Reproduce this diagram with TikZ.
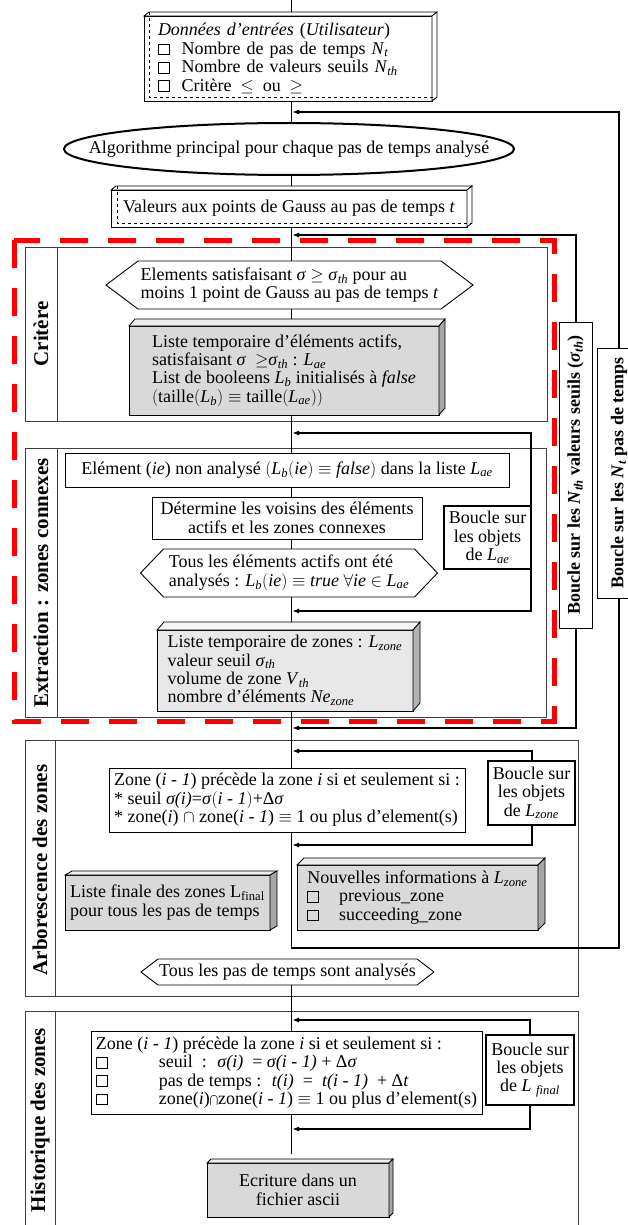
\documentclass[tikz,border=0pt]{standalone}
\usepackage{fontspec}
\setmainfont{Liberation Serif}
\usetikzlibrary{calc,arrows.meta,shapes.geometric}
\newcommand\fs{\fontsize{18}{18.4}\selectfont}
\newcommand\sbi[1]{\textsubscript{\textit{#1}}}
\newcommand\cb{{\setlength\fboxsep{0pt}\setlength\fboxrule{0.8pt}\fbox{\rule{0pt}{10pt}\hspace{10pt}}}}
\newcommand\threeD[5]{%
  \draw[line width=0.8pt, fill=#4] (#1.north west) -- ++(#2,#3) -- ($(#1.north east)+(#2,#3)$) -- (#1.north east) -- cycle;
  \draw[line width=0.8pt, fill=#5] (#1.north east) -- ++(#2,#3) -- ($(#1.south east)+(#2,#3)$) -- (#1.south east) -- cycle;}
\newcommand\hexa[2]{%
  \draw[line width=0.9pt] (#1.west) -- ($(#1.north west)+(#2,0)$) -- ($(#1.north east)+(-#2,0)$) -- (#1.east)
    -- ($(#1.south east)+(-#2,0)$) -- ($(#1.south west)+(#2,0)$) -- cycle;}
\begin{document}
\begin{tikzpicture}[x=1pt,y=-1pt,
  every node/.style={font=\fs, inner sep=0pt, outer sep=0pt},
  box/.style={draw, line width=0.9pt, fill=white, align=center},
  loopbox/.style={box, line width=2pt},
  gbox/.style={box, fill=black!15},
  sec/.style={draw=black!75, line width=1pt},
  conn/.style={line width=0.9pt},
  loopline/.style={line width=2pt},
  arr/.style={-{Latex[length=7pt,width=5pt]}},
  seclabel/.style={rotate=90, font=\fontsize{21}{21}\selectfont\bfseries},
  vlabel/.style={draw, line width=0.9pt, fill=white, rotate=90, font=\fontsize{18}{18}\selectfont\bfseries}]
\useasboundingbox (0,0) rectangle (627,1225);
\fill[white] (0,0) rectangle (627,1225);

% section frames
\draw[sec] (25,247) rectangle (547,421); \draw[sec] (57,247) -- (57,421);
\draw[sec] (25,448) rectangle (546,717); \draw[sec] (57,448) -- (57,717);
\draw[sec] (25,740) rectangle (578,996); \draw[sec] (55,740) -- (55,996);
\draw[sec] (25,1011) rectangle (578,1232); \draw[sec] (55,1011) -- (55,1232);

\node[seclabel] (lcrit) at (41,334) {Critère};
\node[seclabel] (lext) at (41,583) {Extraction : zones connexes};
\node[seclabel] (larb) at (40,870) {Arborescence des zones};
\node[seclabel] (lhist) at (40,1120) {Historique des zones};

% input box
\node[box, minimum width=288, minimum height=85, text width=260, align=left] (donnees) at (288,58.5)
  {\textit{Données d'entrées} (\textit{Utilisateur})\\
   \cb\ \ Nombre de pas de temps \textit{N}\sbi{t}\\
   \cb\ \ Nombre de valeurs seuils \textit{N}\sbi{th}\\
   \cb\ \ Critère $\,\leq\,$ ou $\,\geq$};
\threeD{donnees}{5}{-4}{white}{white}
\draw[line width=0.8pt, dashed] ($(donnees.north west)+(5,-4)$) -- ($(donnees.south west)+(5,-4)$) -- ($(donnees.south east)+(5,-4)$);

\node (algo) at (289,149) {Algorithme principal pour chaque pas de temps analysé};
\draw[line width=2pt] (algo.center) ellipse [x radius=225, y radius=26];
\coordinate (algoN) at ($(algo.center)+(0,-26)$);
\coordinate (algoS) at ($(algo.center)+(0,26)$);

\node[box, minimum width=356, minimum height=37] (val) at (289,208.5)
  {Valeurs aux points de Gauss au pas de temps \textit{t}};
\threeD{val}{5}{-4}{white}{white}
\draw[line width=0.8pt, dashed] ($(val.north west)+(6,-4)$) -- ($(val.south west)+(6,-4)$) -- ($(val.south east)+(5,-4)$);

% Critere
\node[minimum width=367, minimum height=48, align=left] (h1) at (289.5,285)
  {Elements satisfaisant \textit{σ} $\geq$ \textit{σ}\sbi{th} pour au\\moins 1 point de Gauss au pas de temps \textit{t}};
\hexa{h1}{32}
\node[gbox, minimum width=310, minimum height=89, align=left] (lae) at (284,370.5)
  {Liste temporaire d'éléments actifs,\\
   satisfaisant \textit{σ} \ $\geq$\textit{σ}\sbi{th} : \textit{L}\sbi{ae}\\
   List de booleens \textit{L}\sbi{b} initialisés à \textit{false}\\
   $\Bigl($taille$\bigl($\textit{L}\sbi{b}$\bigr)\equiv{}$taille$\bigl($\textit{L}\sbi{ae}$\bigr)\Bigr)$};
\threeD{lae}{6}{-7}{black!7}{black!35}

% Extraction
\node[box, minimum width=444, minimum height=34] (elem) at (287,470)
  {Elément (\textit{ie}) non analysé $\bigl($\textit{L}\sbi{b}$\bigl($\textit{ie}$\bigr)\equiv$ \textit{false}$\bigr)$ dans la liste \textit{L}\sbi{ae}};
\node[box, minimum width=270, minimum height=42] (det) at (287,518)
  {Détermine les voisins des éléments\\actifs et les zones connexes};
\node[loopbox, minimum width=87, minimum height=63] (blae) at (487.5,537.5)
  {Boucle sur\\les objets\\de \textit{L}\sbi{ae}};
\node[minimum width=297, minimum height=48, align=left] (h2) at (289,573)
  {Tous les éléments actifs ont été\\analysés : \textit{L}\sbi{b}$\bigl($\textit{ie}$\bigr)\equiv$ \textit{true} $\forall$\textit{ie} $\in$ \textit{L}\sbi{ae}};
\hexa{h2}{23}
\node[gbox, fill=black!9, minimum width=256, minimum height=81, align=left] (lzone) at (285,670.5)
  {Liste temporaire de zones : \textit{L}\sbi{zone}\\
   valeur seuil \textit{σ}\sbi{th}\\
   volume de zone \textit{V}\sbi{th}\\
   nombre d'éléments \textit{Ne}\sbi{zone}};
\threeD{lzone}{7}{-8}{black!4}{black!30}

% Arborescence
\node[box, minimum width=356, minimum height=64, align=left] (zone1) at (287,800)
  {Zone (\textit{i - 1}) précède la zone \textit{i} si et seulement si :\\
   * seuil \textit{σ(i)}=\textit{σ}$\bigl($\textit{i - 1}$\bigr)$+Δ\textit{σ}\\
   * zone(\textit{i}) $\cap$ zone(\textit{i - 1}) $\equiv$ 1 ou plus d'element(s)};
\node[loopbox, minimum width=87, minimum height=64] (blz) at (531.5,793)
  {Boucle sur\\les objets\\de \textit{L}\sbi{zone}};
\node[gbox, minimum width=205, minimum height=55, align=left] (lfin) at (167.5,902.5)
  {Liste finale des zones L\textsubscript{final}\\pour tous les pas de temps};
\threeD{lfin}{7}{-4}{black!7}{black!35}
\node[gbox, minimum width=241, minimum height=65, align=left] (newinfo) at (417.5,897.5)
  {Nouvelles informations à \textit{L}\sbi{zone}\\
   \cb\hspace{20pt}previous\_zone\\
   \cb\hspace{20pt}succeeding\_zone};
\threeD{newinfo}{7}{-7}{black!7}{black!35}
\node[minimum width=293, minimum height=26] (h3) at (287.5,972)
  {Tous les pas de temps sont analysés};
\hexa{h3}{17}

% Historique
\node[box, minimum width=391, minimum height=83, align=left] (zone2) at (286.5,1072.5)
  {Zone (\textit{i - 1}) précède la zone \textit{i} si et seulement si :\\
   \makebox[63pt][l]{\cb}seuil \ : \ \textit{σ(i)} \ = \textit{σ(i - 1)} + Δ\textit{σ}\\
   \makebox[63pt][l]{\cb}pas de temps : \ \textit{t(i)} \ = \ \textit{t(i - 1)} \ + Δ\textit{t}\\
   \makebox[63pt][l]{\cb}zone(\textit{i})$\bigcap$zone(\textit{i - 1}) $\equiv$ 1 ou plus d'element(s)};
\node[loopbox, minimum width=88, minimum height=70] (blf) at (530,1070)
  {Boucle sur\\les objets\\de \textit{L} \sbi{final}};
\node[gbox, minimum width=182, minimum height=54] (ecr) at (298,1190)
  {Ecriture dans un\\fichier ascii};
\threeD{ecr}{4}{-4}{black!7}{black!35}

% outer loop boxes
\node[vlabel, minimum width=306, minimum height=33] (nth) at (575.5,475)
  {Boucle sur les \textit{N}\sbi{th} valeurs seuils (\textit{σ}\sbi{th})};
\node[vlabel, minimum width=250, minimum height=44] (nt) at (619,473)
  {Boucle sur les \textit{N}\sbi{t} pas de temps};

% spine
\coordinate (s0) at (291,0);
\coordinate (s1) at (291,1154);
\coordinate (a1) at (292,112);  \coordinate (b1) at (291,948);
\coordinate (a2) at (292,235);  \coordinate (b2) at (292,728);
\coordinate (a3) at (292,433);  \coordinate (b3) at (292,611);
\coordinate (a4) at (292,751);  \coordinate (b4) at (292,845);
\coordinate (a5) at (292,1020); \coordinate (b5) at (292,1129);
\draw[conn] (s0) -- ($(donnees.north -| s0)+(0,-4)$);
\draw[conn] (donnees.south -| s0) -- (algoN -| s0);
\draw[conn] (algoS -| s0) -- ($(val.north -| s0)+(0,-4)$);
\draw[conn] (val.south -| s0) -- (h1.north -| s0);
\draw[conn] (h1.south -| s0) -- ($(lae.north -| s0)+(0,-7)$);
\draw[conn] (lae.south -| s0) -- (elem.north -| s0);
\draw[conn] (elem.south -| s0) -- (det.north -| s0);
\draw[conn] (det.south -| s0) -- (h2.north -| s0);
\draw[conn] (h2.south -| s0) -- ($(lzone.north -| s0)+(0,-8)$);
\draw[conn] (lzone.south -| s0) -- (zone1.north -| s0);
\draw[conn] (zone1.south -| s0) -- (b1);
\draw[conn] (h3.south -| s0) -- (zone2.north -| s0);
\draw[conn] (zone2.south -| s0) -- (s1);

% loops
\draw[loopline, arr] (nt.east) |- (a1);
\draw[loopline] (nt.west) |- (b1);
\draw[loopline, arr] (nth.east) |- (a2);
\draw[loopline, arr] (nth.west) |- (b2);
\draw[loopline, arr] (blae.north east) |- (a3);
\draw[loopline, arr] (blae.south east) |- (b3);
\draw[loopline, arr] (blz.north) |- (a4);
\draw[loopline, arr] (blz.south) |- (b4);
\draw[loopline, arr] (blf.north) |- (a5);
\draw[loopline, arr] (blf.south) |- (b5);

% red dashed frame
\draw[red, line width=5pt, dash pattern=on 28pt off 20pt] (14,240) rectangle (554,721);
\end{tikzpicture}
\end{document}
